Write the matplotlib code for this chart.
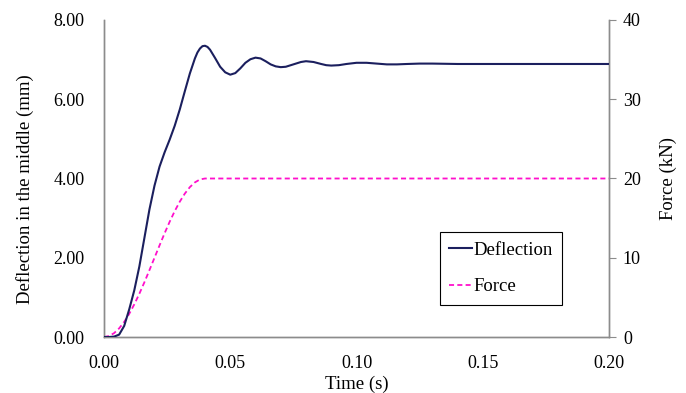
import matplotlib
matplotlib.use("Agg")
import matplotlib.pyplot as plt
from matplotlib.ticker import FormatStrFormatter

plt.rcParams['font.family'] = ['Liberation Serif', 'DejaVu Serif']

# Deflection (mm) vs time (s)
t_defl = [0.000, 0.002, 0.004, 0.006, 0.008, 0.010, 0.012, 0.014, 0.016, 0.018,
          0.020, 0.022, 0.024, 0.026, 0.028, 0.030, 0.032, 0.034, 0.036, 0.037,
          0.038, 0.039, 0.040, 0.041, 0.042, 0.044, 0.046, 0.048, 0.050, 0.052,
          0.054, 0.056, 0.058, 0.060, 0.062, 0.064, 0.066, 0.068, 0.070, 0.072,
          0.075, 0.078, 0.080, 0.083, 0.086, 0.088, 0.090, 0.093, 0.096, 0.100,
          0.104, 0.108, 0.112, 0.116, 0.120, 0.125, 0.130, 0.140, 0.150, 0.160,
          0.180, 0.200]
deflection = [0.00, 0.00, 0.01, 0.06, 0.28, 0.70, 1.18, 1.78, 2.50, 3.22,
              3.82, 4.30, 4.66, 4.98, 5.33, 5.74, 6.20, 6.65, 7.03, 7.18,
              7.28, 7.34, 7.35, 7.32, 7.25, 7.04, 6.82, 6.68, 6.62, 6.66,
              6.78, 6.92, 7.01, 7.05, 7.03, 6.96, 6.88, 6.83, 6.81, 6.82,
              6.88, 6.94, 6.96, 6.94, 6.89, 6.86, 6.85, 6.86, 6.89, 6.92,
              6.92, 6.90, 6.88, 6.88, 6.89, 6.90, 6.90, 6.89, 6.89, 6.89,
              6.89, 6.89]

# Force (kN) vs time (s)
t_force = [0.000, 0.002, 0.004, 0.006, 0.008, 0.010, 0.012, 0.014, 0.016, 0.018,
           0.020, 0.022, 0.024, 0.026, 0.028, 0.030, 0.032, 0.034, 0.036, 0.038,
           0.040, 0.060, 0.100, 0.150, 0.200]
force = [0.00, 0.12, 0.49, 1.09, 1.91, 2.93, 4.12, 5.46, 6.91, 8.44,
         10.00, 11.56, 13.09, 14.54, 15.88, 17.07, 18.09, 18.91, 19.51, 19.88,
         20.00, 20.00, 20.00, 20.00, 20.00]

x_ticks = [0.00, 0.05, 0.10, 0.15, 0.20]
y_left_ticks = [0.0, 2.0, 4.0, 6.0, 8.0]
y_right_ticks = [0, 10, 20, 30, 40]

W, H = 686, 393
fig = plt.figure(figsize=(W / 100, H / 100), dpi=100)
ax = fig.add_axes([104 / W, 1 - 337 / H, 505 / W, 317 / H])
ax2 = ax.twinx()

spine_col = '#8c8c8c'
l1, = ax.plot(t_defl, deflection, color='#1b1f5e', lw=1.5, label='Deflection', zorder=3)
l2, = ax2.plot(t_force, force, color='#ff10cc', lw=1.3, ls=(0, (2.8, 1.8)), label='Force')

ax.set_xlim(0, 0.2)
ax.set_ylim(0, 8)
ax2.set_ylim(0, 40)
ax.set_xticks(x_ticks)
ax.set_yticks(y_left_ticks)
ax2.set_yticks(y_right_ticks)
ax.xaxis.set_major_formatter(FormatStrFormatter('%.2f'))
ax.yaxis.set_major_formatter(FormatStrFormatter('%.2f'))

for a in (ax, ax2):
    a.spines['top'].set_visible(False)
    for s in ('left', 'right', 'bottom'):
        a.spines[s].set_color(spine_col)
        a.spines[s].set_linewidth(1.0)

fs_tick = 13
fs_lab = 13.5
ax.tick_params(axis='x', length=0, labelsize=fs_tick, pad=13, colors='black')
ax.tick_params(axis='y', length=0, labelsize=fs_tick, pad=14, colors='black')
ax2.tick_params(axis='y', length=5, color=spine_col, labelsize=fs_tick, pad=5, labelcolor='black')

fig.text(357 / W, 1 - 384 / H, 'Time (s)', fontsize=fs_lab, ha='center', va='center')
fig.text(25 / W, 1 - 189 / H, 'Deflection in the middle (mm)', fontsize=fs_lab,
         ha='center', va='center', rotation=90)
fig.text(668 / W, 1 - 179 / H, 'Force (kN)', fontsize=fs_lab,
         ha='center', va='center', rotation=90)

ax.set_zorder(ax2.get_zorder() + 1)
ax.patch.set_visible(False)

leg = ax.legend([l1, l2], ['Deflection', 'Force'], loc='upper left',
                bbox_to_anchor=(0.665, 0.331), fontsize=13.5, frameon=True,
                fancybox=False, edgecolor='black', framealpha=1,
                handlelength=1.2, handletextpad=0.1, labelspacing=1.05,
                borderpad=0.5, borderaxespad=0)
leg.get_frame().set_linewidth(0.8)

fig.savefig('out.png', dpi=100)
